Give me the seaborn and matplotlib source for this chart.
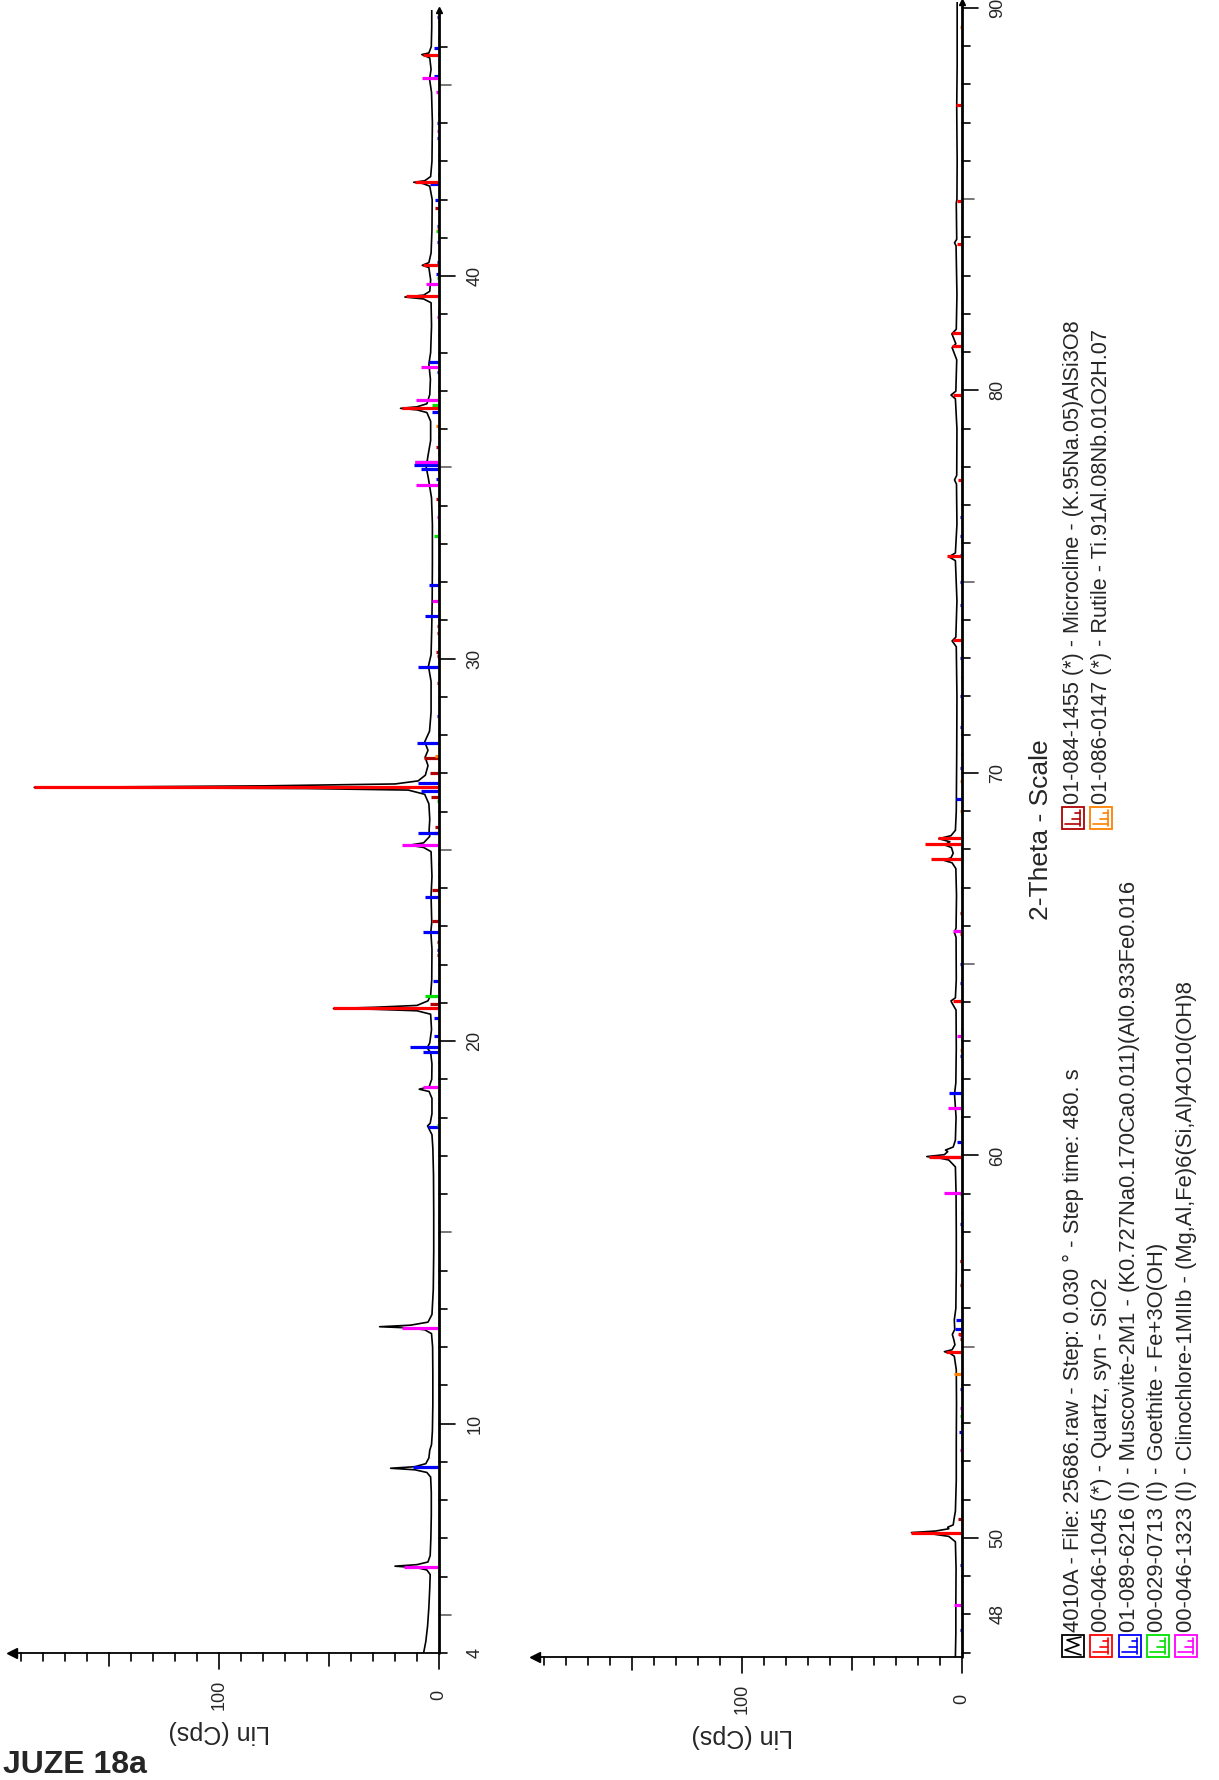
import pandas as pd
import seaborn as sns
import matplotlib.pyplot as plt
from matplotlib import transforms
from matplotlib.patches import Rectangle

scan_low = [
    (4.00, 7.0), (4.30, 6.0), (4.70, 5.2), (5.20, 4.6), (5.70, 4.2), (6.05, 4.0),
    (6.17, 5.5), (6.23, 10), (6.27, 20), (6.31, 10), (6.38, 5.0), (6.55, 4.0),
    (7.00, 3.7), (7.60, 3.5), (8.20, 3.5), (8.60, 3.8), (8.72, 5.5), (8.79, 11),
    (8.83, 22), (8.87, 11), (8.95, 6.0), (9.10, 4.6), (9.30, 4.2), (9.45, 3.4),
    (9.80, 3.0), (10.5, 2.8), (11.3, 2.8), (12.0, 2.9), (12.35, 3.4), (12.45, 6.5),
    (12.50, 14), (12.53, 27), (12.57, 13), (12.65, 5.0), (12.85, 3.2), (13.5, 2.6),
    (14.5, 2.4), (15.5, 2.4), (16.5, 2.5), (17.2, 2.8), (17.55, 3.2), (17.70, 4.5),
    (17.78, 5.2), (17.85, 4.0), (18.10, 3.2), (18.50, 3.2), (18.68, 4.5), (18.74, 9.0),
    (18.80, 4.5), (19.00, 3.3), (19.40, 3.2), (19.70, 3.8), (19.82, 5.4), (19.95, 4.2),
    (20.30, 3.4), (20.70, 3.8), (20.79, 10), (20.83, 30), (20.85, 48), (20.88, 30),
    (20.93, 10), (21.05, 5.0), (21.20, 3.8), (21.60, 3.3), (22.40, 3.2), (22.85, 3.7),
    (23.10, 3.3), (23.80, 3.6), (24.30, 3.2), (24.95, 3.6), (25.06, 7.0), (25.12, 13.5),
    (25.18, 7.0), (25.35, 4.2), (25.50, 4.5), (25.80, 4.2), (26.20, 4.6), (26.45, 6.5),
    (26.56, 14), (26.60, 60), (26.63, 184), (26.67, 80), (26.72, 20), (26.80, 9.5),
    (26.95, 6.2), (27.20, 5.0), (27.42, 6.3), (27.60, 5.0), (27.82, 6.5), (28.10, 4.3),
    (28.60, 3.6), (29.40, 3.6), (29.80, 4.8), (30.10, 3.6), (30.80, 3.3), (31.50, 3.1),
    (32.50, 3.0), (33.50, 3.0), (34.20, 3.4), (34.70, 4.8), (35.00, 5.8), (35.30, 5.0),
    (35.70, 3.8), (36.20, 3.8), (36.43, 5.5), (36.50, 10), (36.54, 17.5), (36.58, 10),
    (36.66, 5.5), (36.90, 4.2), (37.30, 3.9), (37.70, 4.6), (38.00, 3.8), (38.70, 3.4),
    (39.30, 3.6), (39.40, 7.0), (39.45, 15.5), (39.50, 7.0), (39.60, 4.2), (39.90, 3.8),
    (40.22, 4.6), (40.28, 7.6), (40.35, 4.6), (40.60, 3.6), (41.20, 3.2), (42.00, 3.1),
    (42.35, 4.2), (42.42, 7.5), (42.45, 11.5), (42.49, 6.5), (42.60, 3.8), (43.00, 3.2),
    (44.00, 3.0), (44.80, 3.4), (45.15, 4.3), (45.40, 3.6), (45.70, 4.2), (45.76, 6.5),
    (45.79, 7.8), (45.83, 4.6), (46.00, 3.5), (46.50, 3.3), (46.95, 3.3),
]
scan_high = [
    (46.90, 3.0), (47.50, 2.8), (48.30, 2.8), (49.20, 2.7), (49.90, 3.0), (50.04, 6.0),
    (50.10, 13), (50.14, 23), (50.18, 12), (50.24, 6.0), (50.28, 6.5), (50.34, 4.0),
    (50.50, 3.6), (50.70, 3.0), (51.50, 2.6), (52.50, 2.6), (53.50, 2.5), (54.40, 2.6),
    (54.75, 3.5), (54.83, 5.5), (54.87, 8.0), (54.92, 4.5), (55.05, 3.2), (55.20, 3.8),
    (55.32, 4.4), (55.45, 3.3), (55.70, 3.5), (56.00, 2.8), (57.00, 2.6), (58.00, 2.6),
    (59.00, 2.7), (59.70, 3.0), (59.88, 6.0), (59.94, 11), (59.97, 16), (60.02, 8.0),
    (60.10, 6.5), (60.14, 7.5), (60.22, 4.0), (60.40, 3.0), (61.00, 2.7), (61.60, 3.4),
    (61.90, 2.8), (62.80, 2.6), (63.80, 2.7), (63.98, 4.5), (64.04, 5.0), (64.12, 3.0),
    (64.60, 2.6), (65.70, 2.7), (65.82, 3.4), (65.95, 2.7), (66.80, 2.5), (67.50, 2.8),
    (67.65, 4.5), (67.72, 8.5), (67.78, 5.0), (67.90, 4.0), (68.05, 4.8), (68.12, 8.0),
    (68.20, 5.5), (68.28, 10.5), (68.36, 5.0), (68.50, 3.0), (69.00, 2.6), (70.50, 2.4),
    (72.00, 2.3), (73.30, 2.6), (73.45, 4.5), (73.55, 2.8), (74.50, 2.3), (75.55, 3.0),
    (75.65, 6.0), (75.75, 3.0), (76.50, 2.3), (77.55, 2.5), (77.66, 3.4), (77.78, 2.4),
    (79.00, 2.3), (79.78, 3.0), (79.88, 5.0), (79.98, 2.8), (80.80, 2.4), (81.12, 4.5),
    (81.22, 2.8), (81.48, 4.6), (81.60, 2.6), (82.50, 2.3), (83.78, 2.7), (83.86, 3.4),
    (83.95, 2.4), (84.90, 2.6), (85.00, 2.3), (86.00, 2.2), (87.40, 2.4), (88.50, 2.2),
    (90.15, 2.2),
]

# reference patterns (sticks): 2-theta positions and heights in Cps
microcline_pos = [13.16, 13.7, 14.96, 15.28, 20.98, 22.24, 22.58, 23.13, 23.94, 24.28,
                  24.63, 25.45, 25.6, 26.37, 27.0, 27.4, 29.37, 30.06, 30.16, 30.67,
                  30.85, 32.07, 32.4, 34.18, 34.88, 35.54, 35.8, 36.97, 37.1, 38.46,
                  39.09, 40.5, 41.77, 42.64, 43.17, 44.24, 44.8, 45.5, 46.25, 47.5,
                  49.0, 50.5, 51.2, 52.0, 55.2, 56.6, 57.25, 58.5, 61.0, 63.3,
                  64.6, 66.35, 67.0, 70.5, 72.5]
microcline_cps = [0.4, 0.4, 0.4, 0.4, 4.0, 0.8, 1.0, 3.0, 3.0, 0.5,
                  0.5, 2.5, 2.0, 3.6, 4.0, 6.8, 1.0, 1.0, 1.5, 1.0,
                  1.0, 0.5, 0.5, 1.5, 0.5, 1.5, 0.5, 0.5, 0.5, 0.5,
                  0.5, 0.5, 2.0, 0.5, 0.5, 0.5, 0.5, 0.5, 0.5, 0.5,
                  0.5, 2.0, 0.5, 0.5, 1.0, 0.5, 0.8, 0.5, 0.5, 0.5,
                  0.5, 0.8, 0.5, 0.5, 0.5]

quartz_pos = [20.86, 26.64, 36.54, 39.47, 40.29, 42.45, 45.79, 50.14, 54.87, 55.33,
              57.24, 59.96, 64.03, 65.79, 67.74, 68.14, 68.31, 73.47, 75.66, 77.67,
              79.88, 81.17, 81.49, 83.84, 84.95, 87.45]
quartz_cps = [48, 184, 17, 15, 7.5, 11, 7.5, 23, 7.5, 2.0,
              0.8, 15, 4.0, 1.0, 14, 17, 11, 4.0, 7.0, 2.0,
              4.3, 4.7, 4.7, 2.2, 2.4, 2.6]

rutile_pos = [27.44, 36.08, 39.2, 41.24, 44.05, 54.28, 56.6, 62.75, 64.04, 69.0,
              69.79, 72.4, 76.5, 79.8, 82.3, 84.2, 89.5]
rutile_cps = [2.0, 1.5, 0.5, 1.0, 0.5, 3.5, 1.0, 0.8, 1.5, 1.0,
              0.8, 0.5, 0.5, 0.5, 0.5, 0.5, 0.8]

muscovite_pos = [8.85, 17.75, 19.71, 19.85, 20.13, 20.6, 21.58, 22.38, 22.86, 23.77,
                 25.45, 26.54, 26.75, 27.78, 28.49, 29.77, 31.1, 31.93, 34.7, 34.96,
                 35.07, 35.15, 36.45, 36.76, 37.5, 37.76, 40.05, 40.37, 40.9, 41.3,
                 41.98, 42.4, 43.6, 44.0, 45.22, 45.95, 46.76, 47.6, 49.3, 52.77,
                 53.9, 55.45, 55.71, 56.6, 58.2, 60.36, 61.64, 62.6, 64.5, 65.0,
                 69.31, 70.13, 71.2, 72.0, 73.0, 74.4, 75.0, 75.7, 76.2, 76.7]
muscovite_cps = [12, 5.0, 7.3, 13, 2.5, 2.5, 2.9, 1.0, 7.3, 6.5,
                 9.4, 8.0, 9.7, 10, 1.0, 9.7, 6.5, 4.5, 1.5, 8.0,
                 11.4, 11, 3.0, 1.0, 1.0, 4.5, 1.5, 1.0, 1.0, 1.0,
                 2.0, 4.0, 0.8, 0.8, 2.5, 2.5, 1.0, 0.8, 0.8, 1.5,
                 1.0, 3.0, 2.6, 0.8, 1.0, 2.3, 5.7, 1.0, 0.8, 1.0,
                 2.8, 1.0, 0.8, 1.0, 1.0, 0.8, 1.0, 1.0, 1.0, 1.0]

goethite_pos = [17.8, 21.18, 26.27, 33.2, 34.7, 35.38, 36.64, 39.96, 41.17, 45.04,
                47.3, 50.6, 53.2, 55.4, 59.0, 61.4, 64.0, 66.9, 68.9, 71.7,
                76.1, 79.0, 84.5, 86.3]
goethite_cps = [0.8, 6.2, 1.0, 2.4, 0.5, 0.5, 3.2, 0.8, 1.5, 0.5,
                0.5, 0.5, 1.0, 0.5, 0.8, 0.5, 0.5, 0.5, 0.5, 0.5,
                0.5, 0.5, 0.5, 0.5]

clinochlore_pos = [6.25, 12.5, 18.8, 19.45, 25.12, 26.3, 31.5, 33.7, 34.54, 35.14,
                   36.76, 37.62, 38.93, 39.8, 43.8, 44.8, 45.17, 48.24, 52.3, 53.4,
                   55.3, 59.03, 59.96, 61.23, 63.12, 65.86]
clinochlore_cps = [16, 17, 7.3, 0.5, 16.7, 0.5, 3.2, 0.8, 10.5, 11,
                   10.5, 8.4, 0.8, 5.7, 0.8, 1.3, 7.6, 3.8, 1.0, 1.0,
                   1.5, 8.0, 13, 6.3, 2.3, 4.3]

phase_colors = ['#B00000', '#FF0000', '#FF8000', '#0000FF', '#00E000', '#FF00FF']

legend_left = [
    "4010A - File: 25686.raw - Step: 0.030 \u00b0 - Step time: 480. s",
    "00-046-1045 (*) - Quartz, syn - SiO2",
    "01-089-6216 (I) - Muscovite-2M1 - (K0.727Na0.170Ca0.011)(Al0.933Fe0.016",
    "00-029-0713 (I) - Goethite - Fe+3O(OH)",
    "00-046-1323 (I) - Clinochlore-1MIIb - (Mg,Al,Fe)6(Si,Al)4O10(OH)8",
]
legend_right = [
    "01-084-1455 (*) - Microcline - (K.95Na.05)AlSi3O8",
    "01-086-0147 (*) - Rutile - Ti.91Al.08Nb.01O2H.07",
]

# ---- figure ----
sns.set_theme(style='white')
plt.rcParams['font.family'] = ['Liberation Sans', 'DejaVu Sans']

W, H = 1219, 1780
PX_DEG = 38.25   # pixels per degree 2-theta
PX_CPS = 2.2     # pixels per Cps
CMAX = 194

fig = plt.figure(figsize=(W / 100, H / 100), dpi=100)
over = fig.add_axes([0, 0, 1, 1])
over.set_xlim(0, W)
over.set_ylim(H, 0)
over.axis('off')

phases = [
    (microcline_pos, microcline_cps, phase_colors[0]),
    (muscovite_pos, muscovite_cps, phase_colors[3]),
    (goethite_pos, goethite_cps, phase_colors[4]),
    (clinochlore_pos, clinochlore_cps, phase_colors[5]),
    (rutile_pos, rutile_cps, phase_colors[2]),
    (quartz_pos, quartz_cps, phase_colors[1]),
]


def draw_panel(x0, y0, lo, hi, scan, labels):
    w = CMAX * PX_CPS
    h = (hi - lo) * PX_DEG
    ax = fig.add_axes([(x0 - w) / W, 1 - y0 / H, w / W, h / H])
    df = pd.DataFrame(scan, columns=['tt', 'cps'])
    sns.lineplot(data=df, x='cps', y='tt', sort=False, orient='y', estimator=None,
                 color='black', lw=1.2, ax=ax, zorder=2)
    for pos, cps, col in phases:
        sel = [(p, c) for p, c in zip(pos, cps) if lo <= p <= hi]
        if sel:
            ax.hlines([p for p, _ in sel], 0, [max(c, 0.6) for _, c in sel],
                      color=col, lw=2.3, zorder=3)
    ax.set_xlim(CMAX, 0)
    ax.set_ylim(lo, hi)
    ax.axis('off')

    # 2-theta axis (right side) and intensity axis (bottom)
    ax.plot([0, 0], [lo, hi], color='black', lw=2, clip_on=False, zorder=4)
    ax.plot([0, CMAX], [lo, lo], color='black', lw=1.3, clip_on=False, zorder=4)
    ax.plot([CMAX], [lo], marker='<', color='black', ms=7, clip_on=False, zorder=4)
    ax.plot([0], [hi], marker='^', color='black', ms=5, clip_on=False, zorder=4)

    ty = ax.get_yaxis_transform()
    for t in range(int(lo) if lo == int(lo) else int(lo) + 1, int(hi) + 1):
        ln = 16 if t % 10 == 0 else (12 if t % 5 == 0 else 8)
        col = '#606060' if (t % 5 == 0 and t % 10) else 'black'
        ax.plot([1, 1 + ln / w], [t, t], transform=ty, color=col, lw=1.2, clip_on=False)
    lab_tr = transforms.offset_copy(ty, fig=fig, x=36, y=0, units='dots')
    for t in labels:
        ax.text(1, t, str(t), transform=lab_tr, rotation=90, ha='center', va='center',
                fontsize=13)

    tx = ax.get_xaxis_transform()
    for c in range(0, 200, 10):
        if c > CMAX:
            break
        ln = 16 if c % 100 == 0 else (13 if c % 50 == 0 else 8)
        ax.plot([c, c], [0, -ln / h], transform=tx, color='black', lw=1.2, clip_on=False)
    for c in (0, 100):
        tr = transforms.offset_copy(tx, fig=fig, x=0, y=-42, units='dots')
        ax.text(c, 0, str(c), transform=tr, rotation=90, ha='center', va='center',
                fontsize=13)
    tr = transforms.offset_copy(tx, fig=fig, x=0, y=-79, units='dots')
    ax.text(100, 0, 'Lin (Cps)', transform=tr, rotation=180, ha='center', va='center',
            fontsize=18)
    return ax


draw_panel(439, 1653, 4, 46.95, scan_low, [4, 10, 20, 30, 40])
draw_panel(962, 1656.5, 46.9, 90.15, scan_high, [48, 50, 60, 70, 80, 90])

# legend
over.text(1041, 830, '2-Theta - Scale', rotation=90, ha='center', va='center', fontsize=19)


def legend_icon(xc, ybot, col, zigzag=False):
    s = 22
    over.add_patch(Rectangle((xc - s / 2, ybot - s), s, s, fill=False, ec=col, lw=1.3))
    if zigzag:
        over.plot([xc + 8, xc - 8, xc + 6, xc - 6, xc + 8],
                  [ybot - 2, ybot - 7, ybot - 12, ybot - 17, ybot - 20], color=col, lw=1.2)
    else:
        xb = xc + s / 2 - 4
        over.plot([xb, xb], [ybot - s + 3, ybot - 3], color=col, lw=1.2)
        for dy, ln in ((5, 15), (10, 8), (16, 5)):
            over.plot([xb, xb - ln], [ybot - dy, ybot - dy], color=col, lw=1.2)


left_cols = ['black', phase_colors[1], phase_colors[3], phase_colors[4], phase_colors[5]]
for i, (txt, col) in enumerate(zip(legend_left, left_cols)):
    xc = 1073 + i * 28.3
    legend_icon(xc, 1657, col, zigzag=(i == 0))
    over.text(xc, 1632, txt, rotation=90, ha='center', va='bottom', fontsize=15.8)
for i, (txt, col) in enumerate(zip(legend_right, [phase_colors[0], phase_colors[2]])):
    xc = 1073 + i * 28.3
    legend_icon(xc, 829, col)
    over.text(xc, 804, txt, rotation=90, ha='center', va='bottom', fontsize=15.6)

over.text(3, 1773, 'JUZE 18a', ha='left', va='baseline', fontsize=23, fontweight='bold')

fig.savefig('out.png', dpi=100)
